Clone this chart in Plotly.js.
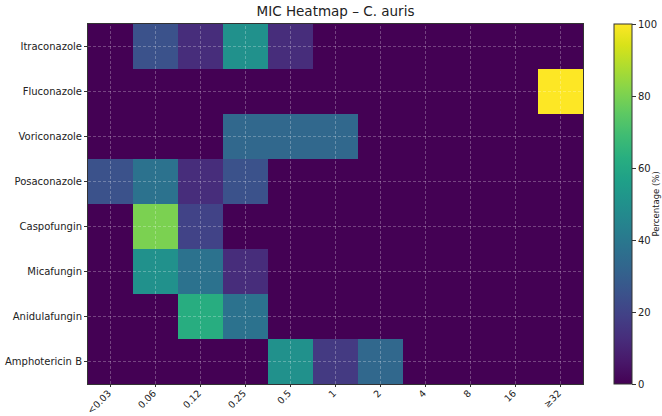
<!DOCTYPE html>
<html>
<head>
<meta charset="utf-8">
<script src="https://cdn.plot.ly/plotly-3.0.1.min.js"></script>
<style>html,body{margin:0;padding:0;background:#fff;}#chart{width:662px;height:416px;}</style>
</head>
<body>
<div id="chart"></div>
<script>
const micLabels = ["<0.03", "0.06", "0.12", "0.25", "0.5", "1", "2", "4", "8", "16", "≥32"];
const drugs = ["Itraconazole", "Fluconazole", "Voriconazole", "Posaconazole", "Caspofungin", "Micafungin", "Anidulafungin", "Amphotericin B"];

const itraconazole   = [0, 25, 12.5, 50, 12.5, 0, 0, 0, 0, 0, 0];
const fluconazole    = [0, 0, 0, 0, 0, 0, 0, 0, 0, 0, 100];
const voriconazole   = [0, 0, 0, 33.3, 33.3, 33.3, 0, 0, 0, 0, 0];
const posaconazole   = [25, 37.5, 12.5, 25, 0, 0, 0, 0, 0, 0, 0];
const caspofungin    = [0, 80, 20, 0, 0, 0, 0, 0, 0, 0, 0];
const micafungin     = [0, 50, 37.5, 12.5, 0, 0, 0, 0, 0, 0, 0];
const anidulafungin  = [0, 0, 62.5, 37.5, 0, 0, 0, 0, 0, 0, 0];
const amphotericinB  = [0, 0, 0, 0, 50, 16.7, 33.3, 0, 0, 0, 0];

const zValues = [itraconazole, fluconazole, voriconazole, posaconazole, caspofungin, micafungin, anidulafungin, amphotericinB];

const gridStyle = {color: "rgba(255,255,255,0.38)", width: 0.7, dash: "3px,2px"};
const shapes = [];
micLabels.forEach(function (lab, i) {
  shapes.push({type: "line", layer: "above", xref: "x", yref: "paper", x0: i, x1: i, y0: 0, y1: 1, line: gridStyle});
});
drugs.forEach(function (d, j) {
  shapes.push({type: "line", layer: "above", xref: "paper", yref: "y", x0: 0, x1: 1, y0: j, y1: j, line: gridStyle});
});

const trace = {
  type: "heatmap",
  x: micLabels,
  y: drugs,
  z: zValues,
  zmin: 0,
  zmax: 100,
  colorscale: "Viridis",
  colorbar: {
    x: 1.0626, xanchor: "left", xpad: 0, ypad: 0,
    y: 0.5, yanchor: "middle", len: 1, lenmode: "fraction",
    thickness: 18, thicknessmode: "pixels",
    outlinewidth: 1, outlinecolor: "#333",
    tickvals: [0, 20, 40, 60, 80, 100],
    ticks: "outside", ticklen: 4, tickcolor: "#333",
    tickfont: {family: "DejaVu Sans", size: 10, color: "#222"}
  }
};

const layout = {
  width: 662, height: 416,
  margin: {l: 88, r: 79, t: 24, b: 32, pad: 0, autoexpand: false},
  paper_bgcolor: "#fff",
  plot_bgcolor: "#fff",
  font: {family: "DejaVu Sans", color: "#222"},
  title: {text: "MIC Heatmap – C. auris", font: {family: "DejaVu Sans", size: 13.5, color: "#222"}, x: 0.5, xref: "paper", xanchor: "center", y: 1, yref: "container", yanchor: "top", pad: {t: 7}},
  xaxis: {
    type: "category", tickangle: -45, showgrid: false, zeroline: false,
    showline: true, mirror: true, linecolor: "#333", linewidth: 1,
    ticks: "outside", ticklen: 2, tickcolor: "#333",
    ticklabelstandoff: -3, ticklabelshift: -2,
    tickfont: {family: "DejaVu Sans", size: 9.5, color: "#222"}
  },
  yaxis: {
    type: "category", autorange: "reversed", showgrid: false, zeroline: false,
    showline: true, mirror: true, linecolor: "#333", linewidth: 1,
    ticks: "outside", ticklen: 3, tickcolor: "#333",
    tickfont: {family: "DejaVu Sans", size: 10, color: "#222"}
  },
  shapes: shapes,
  annotations: [{
    text: "Percentage (%)", textangle: -90, showarrow: false, borderpad: 0,
    xref: "paper", yref: "paper", x: 1.1556, y: 0.5, xanchor: "right", yanchor: "middle", xshift: 1.5,
    font: {family: "DejaVu Sans", size: 8.5, color: "#222"}
  }]
};

Plotly.newPlot("chart", [trace], layout, {displayModeBar: false, staticPlot: true});
</script>
</body>
</html>
